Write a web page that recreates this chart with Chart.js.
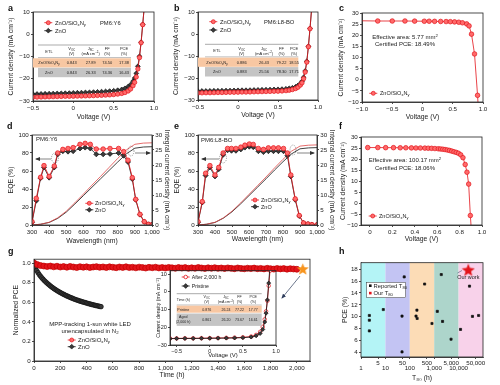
<!DOCTYPE html>
<html><head><meta charset="utf-8">
<script src="https://cdn.jsdelivr.net/npm/chart.js@4.4.1/dist/chart.umd.min.js"></script>
<style>
html,body{margin:0;padding:0;background:#fff;}
#wrap{position:relative;width:500px;height:385px;overflow:hidden;background:#fff;}
#wrap canvas{position:absolute;}
#ov{position:absolute;left:0;top:0;pointer-events:none;}
</style></head><body><div id="wrap"></div>
<script>
// ---------------- DATA ----------------
// a: PM6:Y6 J-V
const aV   = [-0.5,-0.45,-0.4,-0.35,-0.3,-0.25,-0.2,-0.15,-0.1,-0.05,0,0.05,0.1,0.15,0.2,0.25,0.3,0.35,0.4,0.45,0.5,0.55,0.6,0.64,0.68,0.71,0.74,0.76,0.78,0.8,0.82,0.84,0.86,0.88];
const aRed = [-28.3,-28.25,-28.2,-28.15,-28.1,-28.05,-28.0,-27.95,-27.9,-27.9,-27.85,-27.8,-27.75,-27.7,-27.65,-27.6,-27.5,-27.45,-27.35,-27.25,-27.1,-26.9,-26.6,-26.2,-25.5,-24.6,-23.1,-21.6,-19.2,-15.6,-10.5,-3.8,4.3,12.5];
const aBlk = [-26.9,-26.85,-26.8,-26.75,-26.7,-26.65,-26.6,-26.55,-26.5,-26.45,-26.35,-26.3,-26.25,-26.15,-26.1,-26.0,-25.9,-25.8,-25.7,-25.55,-25.4,-25.15,-24.8,-24.3,-23.5,-22.6,-21.1,-19.7,-17.6,-14.4,-9.9,-3.6,4.4,12.6];
// b: PM6:L8-BO J-V
const bV   = [-0.5,-0.45,-0.4,-0.35,-0.3,-0.25,-0.2,-0.15,-0.1,-0.05,0,0.05,0.1,0.15,0.2,0.25,0.3,0.35,0.4,0.45,0.5,0.55,0.6,0.64,0.68,0.72,0.75,0.78,0.8,0.82,0.84,0.86,0.88,0.9,0.92];
const bRed = [-26.8,-26.75,-26.7,-26.7,-26.65,-26.6,-26.6,-26.55,-26.5,-26.5,-26.45,-26.4,-26.4,-26.35,-26.3,-26.25,-26.2,-26.15,-26.1,-26.05,-26.0,-25.9,-25.75,-25.55,-25.25,-24.8,-24.2,-23.2,-22.2,-20.3,-17.3,-12.8,-5.8,2.4,11.2];
const bBlk = [-25.95,-25.9,-25.9,-25.85,-25.8,-25.8,-25.75,-25.7,-25.7,-25.65,-25.6,-25.55,-25.55,-25.5,-25.45,-25.4,-25.35,-25.3,-25.25,-25.2,-25.15,-25.05,-24.9,-24.7,-24.45,-24.0,-23.4,-22.5,-21.5,-19.7,-16.8,-12.4,-5.6,2.5,11.3];
// c: certified small cell
const cV = [-1.0,-0.74,-0.5,-0.29,-0.13,0.03,0.11,0.2,0.3,0.39,0.46,0.53,0.6,0.66,0.73,0.77,0.81,0.86,0.91,0.93];
const cJ = [26.5,26.4,26.4,26.4,26.35,26.3,26.3,26.25,26.2,26.15,26.1,26.0,25.85,25.6,25.1,24.2,20.5,11.6,-7.0,-16];
// f: certified large cell
const fV = [-0.02,0.07,0.14,0.21,0.27,0.32,0.37,0.41,0.45,0.49,0.52,0.55,0.58,0.61,0.63,0.65,0.67,0.69,0.71,0.73,0.75,0.77,0.79,0.81,0.83,0.85,0.866,0.881,0.896,0.91];
const fJ = [25.2,25.2,25.15,25.15,25.1,25.1,25.05,25.0,25.0,24.95,24.9,24.85,24.75,24.65,24.55,24.45,24.3,24.1,23.9,23.6,23.3,23.0,22.6,21.9,20.6,17.5,14.0,8.6,-5.7,-16];
// d: PM6:Y6 EQE + integrated current
const dWl  = [300,325,350,370,400,430,450,480,510,540,580,610,640,675,715,755,805,835,860,885,905,930,955,980,1000];
const dRed = [3.7,29.6,53,66,54,65.5,80,84,85,86,89.6,90.7,89.6,84.4,84.4,85,85,81.5,72,52.6,28.5,11.9,3.7,0.7,0.3];
const dBlk = [3,27,52,64,52.6,64,78.5,82,81.5,82,85,86,85,78.5,78.5,79,80,77,70,51,28,11.5,3.5,0.7,0.3];
const intWl   = [300,350,400,450,500,550,600,650,700,750,800,850,900,950,1000];
const dIntRed = [0,0.25,0.9,2.4,4.6,7.4,10.3,13.3,16.2,19.2,22.2,25.0,26.9,27.3,27.4];
const dIntBlk = [0,0.25,0.85,2.2,4.3,7.0,9.8,12.6,15.4,18.2,21.0,23.7,25.6,26.0,26.1];
// e: PM6:L8-BO EQE + integrated current
const eWl  = [300,325,345,370,400,422,448,474,497,523,552,576,602,625,655,685,714,744,773,803,826,846,872,896,921,947,970,1000];
const eRed = [3.8,26,57.5,66,55.6,64,80,85,85,85,86.5,88.7,90,89.5,85,84,85.7,85.7,85.7,85,80,55.6,29,10.5,2.3,1.1,0.4,0.2];
const eBlk = [3,25,55,64,54,62,78,83,82.5,82.5,84,86,87,86.5,82,81,82,82,82,82,77,54,28,10,2.2,1,0.4,0.2];
const eIntRed = [0,0.25,0.9,2.4,4.6,7.3,10.2,13.1,16.0,19.0,21.9,24.6,26.3,26.6,26.7];
const eIntBlk = [0,0.25,0.85,2.3,4.4,7.0,9.8,12.6,15.4,18.3,21.1,23.7,25.4,25.7,25.8];
// g: stability
const gRedT = [0,25,50,75,100,125,150,175,200,225,250,275,300,325,350,375,400,425,450,475,500,525,550,575,600,625,650,675,700,725,750,775,800,825,850,875,900,925,950,975,1000,1025,1050,1075,1100,1125,1150,1175,1200,1225,1250,1275,1300,1325,1350,1375,1400,1425,1450,1475,1500,1525,1550,1575,1600,1625,1650,1675,1700,1725,1750,1775,1800,1825,1850,1875,1900,1925,1950,1975,2000];
const gRed  = [1.0,0.985,0.975,0.97,0.965,0.97,0.962,0.968,0.96,0.965,0.958,0.966,0.96,0.955,0.963,0.958,0.962,0.955,0.96,0.964,0.957,0.961,0.955,0.962,0.958,0.953,0.96,0.956,0.962,0.955,0.958,0.952,0.959,0.955,0.95,0.957,0.953,0.958,0.951,0.955,0.95,0.956,0.952,0.948,0.955,0.95,0.954,0.947,0.952,0.948,0.955,0.95,0.946,0.952,0.948,0.953,0.947,0.95,0.945,0.951,0.947,0.943,0.95,0.946,0.942,0.948,0.944,0.949,0.943,0.946,0.941,0.947,0.943,0.939,0.945,0.941,0.944,0.938,0.943,0.94,0.937];
const gBlkT = [0,10,20,30,40,50,60,70,80,90,100,110,120,130,140,150,160,170,180,190,200,210,220,230,240,250,260,270,280,290,300,310,320,330,340,350,360,370,380,390,400,410,420,430,440,450,460,470,480,490,500,510];
const gBlk  = [0.985,0.95,0.925,0.903,0.883,0.865,0.849,0.834,0.82,0.807,0.795,0.783,0.772,0.761,0.751,0.741,0.732,0.723,0.715,0.707,0.699,0.692,0.685,0.678,0.671,0.665,0.659,0.653,0.647,0.642,0.636,0.631,0.626,0.621,0.617,0.612,0.608,0.604,0.6,0.596,0.592,0.588,0.584,0.581,0.577,0.574,0.57,0.567,0.564,0.561,0.558,0.555];
const gStarT = [2045];
const gStarV = [0.935];
// g inset J-V
const giV  = [-0.6,-0.5,-0.375,-0.25,-0.125,0,0.125,0.25,0.375,0.5,0.625,0.7,0.76,0.8,0.83,0.85,0.87,0.89,0.91];
const giPr = [-26.4,-26.35,-26.3,-26.3,-26.25,-26.2,-26.15,-26.1,-26.0,-25.85,-25.5,-24.8,-23.5,-21.2,-17.0,-12.0,-4.5,5,15];
const giAg = [-26.3,-26.25,-26.2,-26.2,-26.15,-26.1,-26.05,-25.95,-25.85,-25.65,-25.2,-24.3,-22.6,-19.8,-15.5,-11.0,-5.0,3.5,12];
// h: T80 literature
const hT80 = [2.2,2.2,2.2,8.2,59,48,48,196,180,200,405,810,1950,1340,2200,4900,12000,28000,37000,66000];
const hPCE = [10.2,9.4,7.6,11.2,16.7,10.1,4.06,11.1,10.1,9.7,15.5,8.85,17.1,10.9,9.2,6.2,7.85,15.15,10.05,10.2];
const hOurT = [25000];
const hOurP = [17.8];
const hBands = [1,10,100,1000,10000,100000];
const hBandColors = ['#b4f4f6','#c3c4f3','#fcdcb6','#add5cb','#f8d2ea'];
// tick values
const tJVx = [-0.5,0,0.5,1.0], tJVy = [-30,-20,-10,0,10];
const tCx = [-1.0,-0.5,0,0.5,1.0], tCy = [-10,-5,0,5,10,15,20,25,30];
const tFx = [0,0.2,0.4,0.6,0.8,1.0];
const tWl = [300,400,500,600,700,800,900,1000], tEQE=[0,20,40,60,80,100], tInt=[0,5,10,15,20,25,30];
const tGx = [0,200,400,600,800,1000,1200,1400,1600,1800,2000], tGy=[0,0.2,0.4,0.6,0.8,1.0];
const tGiy = [-30,-20,-10,0,10];
const tHx = [1,5,10,50,100,500,1000,5000,10000,50000], tHy=[4,6,8,10,12,14,16,18];

// ---------------- STYLE ----------------
const INK='#222', RED='#e3141b', REDF='#ff6a6a', BLK='#111', BLKF='#3a3a3a';
const FONT='"Liberation Sans", Arial, Helvetica, sans-serif';
Chart.defaults.font.family=FONT;
Chart.defaults.color=INK;
const frame={id:'frame',afterDatasetsDraw(c){const a=c.chartArea,x=c.ctx;x.save();x.strokeStyle=INK;x.lineWidth=0.8;x.strokeRect(a.left,a.top,a.right-a.left,a.bottom-a.top);x.restore();}};
Chart.register(frame);
const minus=v=>(v<0?'\u2212':'');
const fV1=v=>v===0?'0':minus(v)+Math.abs(v).toFixed(1);
const fInt=v=>minus(v)+Math.abs(v);
const fCom=v=>v.toLocaleString('en-US');
const fDec=v=>v===0?'0':v.toFixed(1);
function axis(o){
  return {type:o.type||'linear',position:o.pos,min:o.min,max:o.max,
    afterBuildTicks:s=>{s.ticks=o.ticks.map(v=>({value:v}));},
    afterFit:s=>{if(o.pos==='left'||o.pos==='right')s.width=o.size;else s.height=o.size;s.paddingLeft=s.paddingRight=s.paddingTop=s.paddingBottom=0;},
    ticks:{callback:v=>o.fmt(v),color:INK,font:{size:o.fs||6.2,lineHeight:o.lh||1.2},padding:1.2,maxRotation:0,minRotation:0,autoSkip:false},
    grid:{display:true,drawOnChartArea:false,drawTicks:true,tickLength:2,color:INK,lineWidth:0.8},
    border:{display:true,color:INK,width:0.8},
    title:{display:!!o.title,text:o.title,color:INK,font:{size:o.ts||6.8},padding:0}
  };
}
function ser(xs,ys,col,fill,style,r,lw,extra){
  return Object.assign({data:xs.map((x,i)=>({x:x,y:ys[i]})),showLine:true,borderColor:col,backgroundColor:fill,borderWidth:lw,
    pointStyle:style,pointRadius:r,pointBorderColor:col,pointBackgroundColor:fill,pointBorderWidth:0.7,tension:0},extra||{});
}
function starImg(size,fill,stroke){const c=document.createElement('canvas');c.width=c.height=size;const x=c.getContext('2d');x.beginPath();
  for(let i=0;i<10;i++){const r=i%2?size*0.21:size*0.49;const a=-Math.PI/2+i*Math.PI/5;x.lineTo(size/2+r*Math.cos(a),size/2+r*Math.sin(a));}
  x.closePath();x.fillStyle=fill;x.fill();if(stroke){x.strokeStyle=stroke;x.lineWidth=0.6;x.stroke();}return c;}
const wrap=document.getElementById('wrap');
function make(b,datasets,scales,plugins){
  const cv=document.createElement('canvas');
  const w=b.R-b.L+b.yw+(b.rw||0)+(b.pr||0), h=b.B-b.T+b.pt+b.xh;
  cv.width=w;cv.height=h;cv.style.left=(b.L-b.yw)+'px';cv.style.top=(b.T-b.pt)+'px';cv.style.width=w+'px';cv.style.height=h+'px';
  wrap.appendChild(cv);
  return new Chart(cv,{type:'scatter',data:{datasets:datasets},plugins:plugins||[],
    options:{responsive:false,animation:false,events:[],layout:{padding:{top:b.pt,left:0,right:b.pr||0,bottom:0}},
      plugins:{legend:{display:false},tooltip:{enabled:false}},scales:scales}});
}
const noPt0=ctx=>ctx.dataIndex===0?0:2.3;

// a
make({L:33,T:12,R:154,B:101,yw:26,pr:8,xh:20,pt:5},
 [ser(aV,aRed,RED,REDF,'circle',2.2,0.8), ser(aV,aBlk,BLK,BLKF,'rectRot',2.4,0.8)],
 {x:axis({pos:'bottom',min:-0.5,max:1.0,ticks:tJVx,fmt:fV1,title:'Voltage (V)',size:20}),
  y:axis({pos:'left',min:-30,max:10,ticks:tJVy,fmt:fInt,title:'Current density (mA cm\u207B\u00B2)',size:26})});
// b
make({L:198,T:12,R:318,B:100,yw:26,pr:8,xh:19,pt:5},
 [ser(bV,bRed,RED,REDF,'circle',2.2,0.8), ser(bV,bBlk,BLK,BLKF,'rectRot',2.4,0.8)],
 {x:axis({pos:'bottom',min:-0.5,max:1.0,ticks:tJVx,fmt:fV1,title:'Voltage (V)',size:19}),
  y:axis({pos:'left',min:-30,max:10,ticks:tJVy,fmt:fInt,title:'Current density (mA cm\u207B\u00B2)',size:26})});
// c
make({L:362,T:13,R:483,B:102,yw:25,pr:8,xh:19,pt:5},
 [ser(cV,cJ,RED,REDF,'circle',2.3,0.8,{pointRadius:noPt0})],
 {x:axis({pos:'bottom',min:-1.0,max:1.0,ticks:tCx,fmt:fV1,title:'Voltage (V)',size:19}),
  y:axis({pos:'left',min:-10,max:30,ticks:tCy,fmt:fInt,title:'Current density (mA cm\u207B\u00B2)',size:25})});
// d
make({L:32,T:135,R:152,B:225,yw:25,rw:19,xh:20,pt:14},
 [ser(dWl,dRed,RED,REDF,'circle',2.3,0.8), ser(dWl,dBlk,BLK,BLKF,'rectRot',2.5,0.8),
  ser(intWl,dIntRed,'#e04848','#e04848','circle',0,0.8,{yAxisID:'y2'}), ser(intWl,dIntBlk,BLK,BLK,'circle',0,0.8,{yAxisID:'y2'})],
 {x:axis({pos:'bottom',min:300,max:1000,ticks:tWl,fmt:fCom,title:'Wavelength (nm)',size:20}),
  y:axis({pos:'left',min:0,max:100,ticks:tEQE,fmt:fInt,title:'EQE (%)',size:25}),
  y2:axis({pos:'right',min:0,max:30,ticks:tInt,fmt:fInt,title:'Integral current density (mA cm\u207B\u00B2)',size:19})});
// e
make({L:198,T:135,R:317,B:225,yw:25,rw:19,xh:18,pt:14},
 [ser(eWl,eRed,RED,REDF,'circle',2.3,0.8), ser(eWl,eBlk,BLK,BLKF,'rectRot',2.5,0.8),
  ser(intWl,eIntRed,'#e04848','#e04848','circle',0,0.8,{yAxisID:'y2'}), ser(intWl,eIntBlk,BLK,BLK,'circle',0,0.8,{yAxisID:'y2'})],
 {x:axis({pos:'bottom',min:300,max:1000,ticks:tWl,fmt:fCom,title:'Wavelength (nm)',size:18}),
  y:axis({pos:'left',min:0,max:100,ticks:tEQE,fmt:fInt,title:'EQE (%)',size:25}),
  y2:axis({pos:'right',min:0,max:30,ticks:tInt,fmt:fInt,title:'Integral current density (mA cm\u207B\u00B2)',size:19})});
// f
make({L:361,T:137,R:482,B:225,yw:22,pr:8,xh:18,pt:5},
 [ser(fV,fJ,RED,REDF,'circle',2.3,0.8)],
 {x:axis({pos:'bottom',min:-0.08,max:1.0,ticks:tFx,fmt:fDec,title:'Voltage (V)',size:18}),
  y:axis({pos:'left',min:-10,max:30,ticks:tCy,fmt:fInt,title:'Current density (mA cm\u207B\u00B2)',size:22})});
// g
make({L:34,T:257,R:310,B:361,yw:22,pr:8,xh:18,pt:5},
 [ser(gStarT,gStarV,'#f7941d','#f7941d',starImg(13,'#f7941d'),6.5,0,{showLine:false}),
  ser(gRedT,gRed,'#c00000',RED,'circle',3,0,{showLine:false}),
  ser(gBlkT,gBlk,BLK,BLKF,'circle',2.3,0.8)],
 {x:axis({pos:'bottom',min:0,max:2100,ticks:tGx,fmt:fCom,title:'Time (h)',size:18}),
  y:axis({pos:'left',min:0,max:1.04,ticks:tGy,fmt:fDec,title:'Normalized PCE',size:22})});
// g inset
make({L:170,T:269,R:276,B:345,yw:15,pr:6,xh:14,pt:3},
 [ser(giV,giPr,BLK,BLKF,'rectRot',2.0,0.8), ser(giV,giAg,RED,'#fff','circle',1.8,0.8)],
 {x:axis({pos:'bottom',min:-0.6,max:1.0,ticks:tJVx,fmt:fV1,title:'Voltage (V)',size:14,fs:5.5,ts:6}),
  y:axis({pos:'left',min:-30,max:12,ticks:tGiy,fmt:fInt,title:'Current density (mA cm\u207B\u00B2)',size:15,fs:5.5,ts:5.2})});
// h
const bands={id:'bands',beforeDatasetsDraw(c){const x=c.scales.x,a=c.chartArea,ctx=c.ctx;ctx.save();
  for(let i=0;i<hBandColors.length;i++){let l=Math.max(a.left,x.getPixelForValue(hBands[i])),r=Math.min(a.right,x.getPixelForValue(hBands[i+1]));
    ctx.fillStyle=hBandColors[i];ctx.fillRect(l,a.top,r-l,a.bottom-a.top);}ctx.restore();}};
make({L:361,T:260,R:483,B:357,yw:20,pr:10,xh:25,pt:5},
 [ser(hOurT,hOurP,RED,RED,starImg(14,'#e3141b'),7,0,{showLine:false}),
  ser(hT80,hPCE,BLK,BLK,'rect',1.5,0,{showLine:false})],
 {x:axis({type:'logarithmic',pos:'bottom',min:1,max:100000,ticks:tHx,lh:0.9,
    fmt:v=>{const s=fCom(v);return String(v)[0]==='1'?['',s]:s;},title:'T\u2088\u2080 (h)',size:25}),
  y:axis({pos:'left',min:3.2,max:19.1,ticks:tHy,fmt:fInt,title:'PCE (%)',size:20})},[bands]);

// ---------------- OVERLAY (text, tables, legends) ----------------
const S=[];
const sub=s=>`<tspan baseline-shift="-0.3em" font-size="72%">${s}</tspan>`;
const sup=s=>`<tspan baseline-shift="0.55em" font-size="72%">${s}</tspan>`;
const ZN=`ZnO/SiO${sub('x')}N${sub('y')}`;
function T(x,y,t,fs,anc,ex){S.push(`<text x="${x}" y="${y}" font-size="${fs}" text-anchor="${anc||'start'}" ${ex||''}>${t}</text>`);}
function R(x,y,w,h,f,ex){S.push(`<rect x="${x}" y="${y}" width="${w}" height="${h}" fill="${f}" ${ex||''}/>`);}
function L(x1,y1,x2,y2,c,w,ex){S.push(`<line x1="${x1}" y1="${y1}" x2="${x2}" y2="${y2}" stroke="${c}" stroke-width="${w}" ${ex||''}/>`);}
function mkRed(x,y){L(x-4,y,x+4,y,RED,0.8);S.push(`<circle cx="${x}" cy="${y}" r="2" fill="${REDF}" stroke="${RED}" stroke-width="0.7"/>`);}
function mkBlk(x,y){L(x-4,y,x+4,y,BLK,0.8);S.push(`<path d="M${x} ${y-2.4}L${x+2.4} ${y}L${x} ${y+2.4}L${x-2.4} ${y}Z" fill="${BLKF}" stroke="${BLK}" stroke-width="0.6"/>`);}
function mkRing(x,y){L(x-4,y,x+4,y,RED,0.8);S.push(`<circle cx="${x}" cy="${y}" r="1.8" fill="#fff" stroke="${RED}" stroke-width="0.8"/>`);}
// panel letters
[['a',8,11],['b',174,11],['c',339,11],['d',7,129],['e',174,129],['f',339,129],['g',8,254],['h',339,254]].forEach(p=>T(p[1],p[2],p[0],9,'start','font-weight="bold" fill="#111"'));
// JV table
function jvTable(x0,xo,x1,yTop,cols,rows){
  const fs=4;
  L(x0,yTop,x1,yTop,'#555',0.5);
  T(cols[0],yTop+7.6,'ETL',fs,'middle');
  T(cols[1],yTop+5.3,`V${sub('OC')}`,fs,'middle');T(cols[1],yTop+10.2,'(V)',fs,'middle');
  T(cols[2],yTop+5.3,`J${sub('SC')}`,fs,'middle');T(cols[2],yTop+10.2,`(mA cm${sup('\u22122')})`,fs,'middle');
  T(cols[3],yTop+5.3,'FF',fs,'middle');T(cols[3],yTop+10.2,'(%)',fs,'middle');
  T(cols[4],yTop+5.3,'PCE',fs,'middle');T(cols[4],yTop+10.2,'(%)',fs,'middle');
  L(x0,yTop+12.6,x1,yTop+12.6,'#555',0.4);
  R(xo,yTop+13.3,x1-xo,9.2,'#f8c7a2');
  R(x0,yTop+22.8,x1-x0,9.4,'#c4c4c4');
  rows.forEach((r,i)=>{const y=yTop+19.3+i*9.4;r.forEach((t,j)=>T(cols[j],y,t,fs,'middle'));});
}
jvTable(38,33,131,45,[49,71.7,90.7,107.3,124],[[ZN,'0.843','27.89','74.50','17.38'],['ZnO','0.843','26.33','74.36','16.43']]);
jvTable(205,198,298.3,44.3,[217,241.7,264,281.5,294],[[ZN,'0.886','26.43','79.22','18.55'],['ZnO','0.883','25.56','78.30','17.71']]);
// a/b legends
mkRed(48.3,22.7);T(55,24.8,ZN,5.8);mkBlk(48.3,30.7);T(55,32.8,'ZnO',5.8);T(100,24.8,'PM6:Y6',5.8);
mkRed(213.3,21.7);T(220,23.8,ZN,5.8);mkBlk(213.3,30);T(220,32.1,'ZnO',5.8);T(264,23.8,'PM6:L8-BO',5.8);
// c
T(405,39.4,`Effective area: 5.77 mm${sup('2')}`,6,'middle');T(405,45.6,'Certified PCE: 18.49%',6,'middle');
mkRed(373.3,93.3);T(380,95.3,ZN,5.5);
// f
T(405,162,`Effective area: 100.17 mm${sup('2')}`,6,'middle');T(405,170.4,'Certified PCE: 18.06%',6,'middle');
mkRed(372.7,216);T(379,218,ZN,5.5);
// d / e
T(36,141,'PM6:Y6',6);mkRed(89.3,203.3);T(95,205.3,ZN,5.5);mkBlk(89.3,209.8);T(95,211.8,'ZnO',5.5);
T(201,142,'PM6:L8-BO',6);mkRed(255,200);T(261,202,ZN,5.5);mkBlk(255,206.7);T(261,208.7,'ZnO',5.5);
S.push(`<defs><marker id="ah" markerWidth="5" markerHeight="5" refX="4" refY="2.5" orient="auto" markerUnits="userSpaceOnUse"><path d="M0,0.5 L5,2.5 L0,4.5 z" fill="#333"/></marker>
<marker id="ah2" markerWidth="5" markerHeight="5" refX="4" refY="2.5" orient="auto" markerUnits="userSpaceOnUse"><path d="M0,0.5 L5,2.5 L0,4.5 z" fill="#2e3d5c"/></marker></defs>`);
function ell(cx,cy,rx,ry){S.push(`<ellipse cx="${cx}" cy="${cy}" rx="${rx}" ry="${ry}" fill="none" stroke="#444" stroke-width="0.5" stroke-dasharray="1,1"/>`);}
ell(55,158,3.5,5);L(51,159,36,159,'#333',0.6,'marker-end="url(#ah)"');
ell(131,151,3,5);L(135,153,150,153,'#333',0.6,'marker-end="url(#ah)"');
ell(223,158,3.5,5);L(219,159,202,159,'#333',0.6,'marker-end="url(#ah)"');
ell(293,150,3,5);L(297,153,314,153,'#333',0.6,'marker-end="url(#ah)"');
// g legend
T(90,326.3,'MPP-tracking 1-sun white LED',6,'middle');T(90,333,`unencapsulated in N${sub('2')}`,6,'middle');
mkRed(71.7,340);T(78,342,ZN,6);mkBlk(71.7,346.7);T(78,348.7,'ZnO',6);
L(300,276,282,298,'#2e3d5c',0.7,'marker-end="url(#ah2)"');
// g inset legend + table
mkRing(185.7,277);T(191.7,279,'After 2,000 h',5.2);mkBlk(185.7,286);T(191.7,288,'Pristine',5.2);
(function(){const fs=3.6,c=[183.3,206.7,226,239.5,253.3],x0=176.7,x1=261.7,y=293.7;
  L(x0,y,x1,y,'#555',0.5);
  T(c[0],y+7.4,'Time (h)',fs,'middle');
  T(c[1],y+4.6,`V${sub('OC')}`,fs,'middle');T(c[1],y+9.2,'(V)',fs,'middle');
  T(c[2],y+4.6,`J${sub('SC')}`,fs,'middle');T(c[2],y+9.2,`(mA cm${sup('\u22122')})`,fs,'middle');
  T(c[3],y+4.6,'FF',fs,'middle');T(c[3],y+9.2,'(%)',fs,'middle');
  T(c[4],y+4.6,'PCE',fs,'middle');T(c[4],y+9.2,'(%)',fs,'middle');
  L(x0,y+11.3,x1,y+11.3,'#555',0.4);
  R(x0,y+12,x1-x0,7,'#f8c7a2');R(x0,y+19.8,x1-x0,12.4,'#c4c4c4');
  ['Pristine','0.876','26.24','77.22','17.77'].forEach((t,j)=>T(c[j],y+16.8,t,fs,'middle'));
  T(c[0],y+24.6,'Aged',fs,'middle');T(c[0],y+29.1,'(2,000 h)',fs,'middle');
  ['0.861','26.20','73.67','16.61'].forEach((t,j)=>T(c[j+1],y+27.2,t,fs,'middle'));
})();
// h legend
R(366.7,282.3,39,15.4,'#fff','stroke="#333" stroke-width="0.5"');
R(369,284.4,2.6,2.6,'#111');T(373.5,288,`Reported T${sub('80')}`,5.8);
R(369,291.8,2.6,2.6,RED);T(373.5,295.4,`Our T${sub('80')}`,5.8);
T(468.3,279.3,'Our work',5.5,'middle');L(457.5,273,462,270.5,'#2e3d5c',0.5);
const svg=`<svg id="ov" width="500" height="385" viewBox="0 0 500 385" font-family='${FONT}' fill="${INK}">${S.join('')}</svg>`;
wrap.insertAdjacentHTML('beforeend',svg);
</script></body></html>
